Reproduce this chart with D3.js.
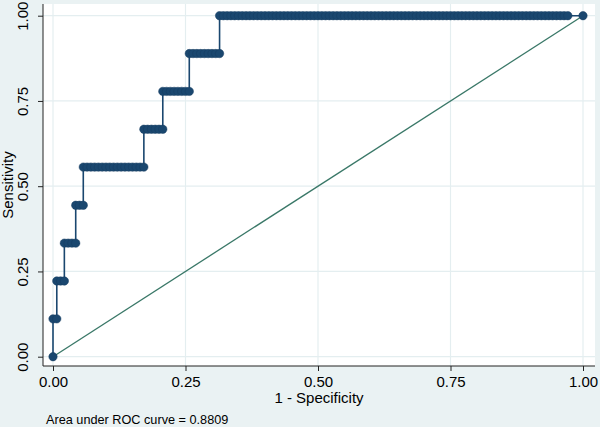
<!DOCTYPE html>
<html>
<head>
<meta charset="utf-8">
<script src="https://cdn.jsdelivr.net/npm/d3@7"></script>
<style>
  body { margin: 0; background: #eaf2f3; }
  svg { display: block; font-family: "Liberation Sans", Arial, sans-serif; }
</style>
</head>
<body>
<svg id="Graph"></svg>
<script>
const w = 600;
const h = 427;

// number of negative cases (1 - specificity step = 1/nNeg)
const nNeg = 140;
// sensitivity levels of the ROC steps (9 positive cases)
const sensLevels = [0.000, 0.111, 0.222, 0.333, 0.444, 0.556, 0.667, 0.778, 0.889, 1.000];
// false positive counts where each horizontal run starts / ends
const fpRunStart = [0, 0, 1, 3, 6, 8, 24, 29, 36, 44];
const fpRunEnd = [0, 1, 3, 6, 8, 24, 29, 36, 44, 136];
// last point of the curve
const lastPoint = {fp: 140, sens: 1.000};

const ticks = [0, 0.25, 0.5, 0.75, 1];
const aucText = "Area under ROC curve = 0.8809";

// plot region
const plotL = 43, plotR = 595, plotT = 4, plotB = 366;

let svg = d3.select("#Graph")
    .attr("width", w)
    .attr("height", h);

svg.append("rect")
    .attr("width", w)
    .attr("height", h)
    .attr("fill", "#eaf2f3");

svg.append("rect")
    .attr("x", plotL)
    .attr("y", plotT)
    .attr("width", plotR - plotL)
    .attr("height", plotB - plotT)
    .attr("fill", "#ffffff");

const xScale = d3.scaleLinear()
    .domain([0, 1])
    .range([53, 583]);
const yScale = d3.scaleLinear()
    .domain([0, 1])
    .range([356.7, 15.7]);

// build the ROC points from the runs
let points = [];
sensLevels.forEach(function (s, i) {
    for (let fp = fpRunStart[i]; fp <= fpRunEnd[i]; fp++) {
        points.push({x: fp / nNeg, y: s});
    }
});
points.push({x: lastPoint.fp / nNeg, y: lastPoint.sens});

// grid lines
svg.append("g")
    .selectAll("line.gx")
    .data(ticks)
    .enter()
    .append("line")
    .attr("x1", function (d) { return xScale(d); })
    .attr("x2", function (d) { return xScale(d); })
    .attr("y1", plotT)
    .attr("y2", plotB)
    .attr("stroke", "#e4eef0")
    .attr("stroke-width", 1.2);
svg.append("g")
    .selectAll("line.gy")
    .data(ticks)
    .enter()
    .append("line")
    .attr("x1", plotL)
    .attr("x2", plotR)
    .attr("y1", function (d) { return yScale(d); })
    .attr("y2", function (d) { return yScale(d); })
    .attr("stroke", "#e4eef0")
    .attr("stroke-width", 1.2);

// axes
const xAxis = d3.axisBottom(xScale)
    .tickValues(ticks)
    .tickFormat(d3.format(".2f"))
    .tickSize(5)
    .tickPadding(5);
const yAxis = d3.axisLeft(yScale)
    .tickValues(ticks)
    .tickFormat(d3.format(".2f"))
    .tickSize(5);

let gx = svg.append("g")
    .attr("transform", "translate(0," + plotB + ")")
    .call(xAxis);
gx.select(".domain").attr("d", "M" + plotL + ",0H" + plotR).attr("stroke", "#222");
gx.selectAll(".tick line").attr("stroke", "#222");
gx.selectAll(".tick text")
    .attr("font-size", "15px")
    .attr("font-family", "Liberation Sans, Arial, sans-serif")
    .attr("fill", "#000");

let gy = svg.append("g")
    .attr("transform", "translate(" + plotL + ",0)")
    .call(yAxis);
gy.select(".domain").attr("d", "M0," + plotT + "V" + plotB).attr("stroke", "#222");
gy.selectAll(".tick line").attr("stroke", "#222");
gy.selectAll(".tick text")
    .attr("font-size", "15px")
    .attr("font-family", "Liberation Sans, Arial, sans-serif")
    .attr("fill", "#000")
    .attr("x", null)
    .attr("dy", null)
    .attr("text-anchor", "middle")
    .attr("transform", "translate(-15,0) rotate(-90)");

// reference diagonal
svg.append("line")
    .attr("x1", xScale(0))
    .attr("y1", yScale(0))
    .attr("x2", xScale(1))
    .attr("y2", yScale(1))
    .attr("stroke", "#3a7868")
    .attr("stroke-width", 1.3);

// ROC curve
const line = d3.line()
    .x(function (d) { return xScale(d.x); })
    .y(function (d) { return yScale(d.y); });

svg.append("path")
    .datum(points)
    .attr("d", line)
    .attr("fill", "none")
    .attr("stroke", "#1a476f")
    .attr("stroke-width", 1.6);

svg.append("g")
    .selectAll("circle")
    .data(points)
    .enter()
    .append("circle")
    .attr("cx", function (d) { return xScale(d.x); })
    .attr("cy", function (d) { return yScale(d.y); })
    .attr("r", 4.2)
    .attr("fill", "#1a476f")
    .attr("stroke", "#163d60")
    .attr("stroke-width", 0.5);

// axis titles
svg.append("text")
    .attr("x", (plotL + plotR) / 2)
    .attr("y", 403)
    .attr("text-anchor", "middle")
    .attr("font-size", "15px")
    .text("1 - Specificity");

svg.append("text")
    .attr("transform", "translate(13," + ((plotT + plotB) / 2) + ") rotate(-90)")
    .attr("text-anchor", "middle")
    .attr("font-size", "15px")
    .text("Sensitivity");

// note
svg.append("text")
    .attr("x", 46)
    .attr("y", 424)
    .attr("font-size", "12.7px")
    .text(aucText);
</script>
</body>
</html>
